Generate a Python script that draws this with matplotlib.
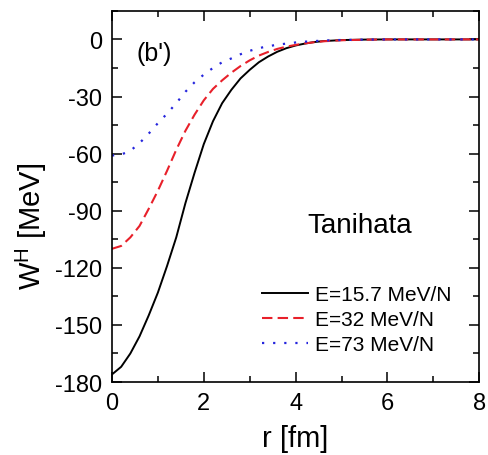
import numpy as np
import matplotlib
matplotlib.use("Agg")
import matplotlib.pyplot as plt
from matplotlib.ticker import MultipleLocator

plt.rcParams['font.family'] = ['Liberation Sans', 'DejaVu Sans']
plt.rcParams['mathtext.fontset'] = 'custom'
plt.rcParams['mathtext.rm'] = 'Liberation Sans'
plt.rcParams['axes.unicode_minus'] = False

# radius grid (fm) and imaginary potential values (MeV)
r = [0.0, 0.2, 0.4, 0.6, 0.8, 1.0, 1.2, 1.4, 1.6, 1.8, 2.0, 2.2, 2.4, 2.6,
     2.8, 3.0, 3.2, 3.4, 3.6, 3.8, 4.0, 4.2, 4.4, 4.6, 5.0, 5.5, 6.0, 7.0, 8.0]
w_157 = [-176, -172, -165, -156, -145, -133, -119, -104, -86, -70, -55, -43,
         -33.5, -26.5, -20.5, -16, -12, -9, -6.5, -4.6, -3.2, -2.2, -1.4,
         -0.9, -0.35, -0.1, 0, 0, 0]
w_32 = [-110, -108.5, -104, -98, -89, -79.5, -69, -58, -48, -39.5, -32, -26,
        -21.5, -17.5, -14, -11, -8.5, -6.6, -5, -3.8, -2.9, -2.1, -1.5, -1.0,
        -0.45, -0.15, 0, 0, 0]
w_73 = [-61, -60.5, -58.5, -54.5, -49.5, -44, -39, -33.5, -27.5, -22.5, -18.5,
        -15, -12, -10, -7.8, -6, -4.6, -3.6, -2.8, -2.2, -1.6, -1.2, -0.9,
        -0.6, -0.3, -0.1, 0, 0, 0]

fig = plt.figure(figsize=(4.89, 4.56), dpi=100)
ax = fig.add_axes([0.229, 0.160, 0.751, 0.814])

ax.plot(r, w_157, color='black', lw=1.4, label='E=15.7 MeV/N')
ax.plot(r, w_32, color='#e8202a', lw=1.5, linestyle=(0, (5, 2.5)), label='E=32 MeV/N')
ax.plot(r, w_73, color='#2525dd', lw=1.6, linestyle=(0, (1, 4)), label='E=73 MeV/N')

ax.set_xlim(0, 8)
ax.set_ylim(-180, 15)
ax.xaxis.set_major_locator(MultipleLocator(2))
ax.xaxis.set_minor_locator(MultipleLocator(1))
ax.yaxis.set_major_locator(MultipleLocator(30))
ax.yaxis.set_minor_locator(MultipleLocator(15))
ax.tick_params(which='both', direction='in', top=True, right=True, width=1.1,
               labelsize=17)
ax.tick_params(which='major', length=7.5, pad=7)
ax.tick_params(which='minor', length=4.5)
for s in ax.spines.values():
    s.set_linewidth(1.2)

ax.set_xlabel('r [fm]', fontsize=21)
ax.set_ylabel(r'W$^{\mathrm{H}}$ [MeV]', fontsize=21)
ax.xaxis.set_label_coords(0.5, -0.112)
ax.yaxis.set_label_coords(-0.172, 0.423)

ax.text(0.068, 0.887, "(b')", transform=ax.transAxes, fontsize=18, va='center')
ax.text(0.531, 0.423, 'Tanihata', transform=ax.transAxes, fontsize=20, va='center')

ax.legend(loc='lower right', bbox_to_anchor=(0.965, 0.035), frameon=False,
          fontsize=15, handlelength=2.2, handletextpad=0.35, labelspacing=0.3,
          borderaxespad=0.3)

fig.savefig('out.png', dpi=100)
